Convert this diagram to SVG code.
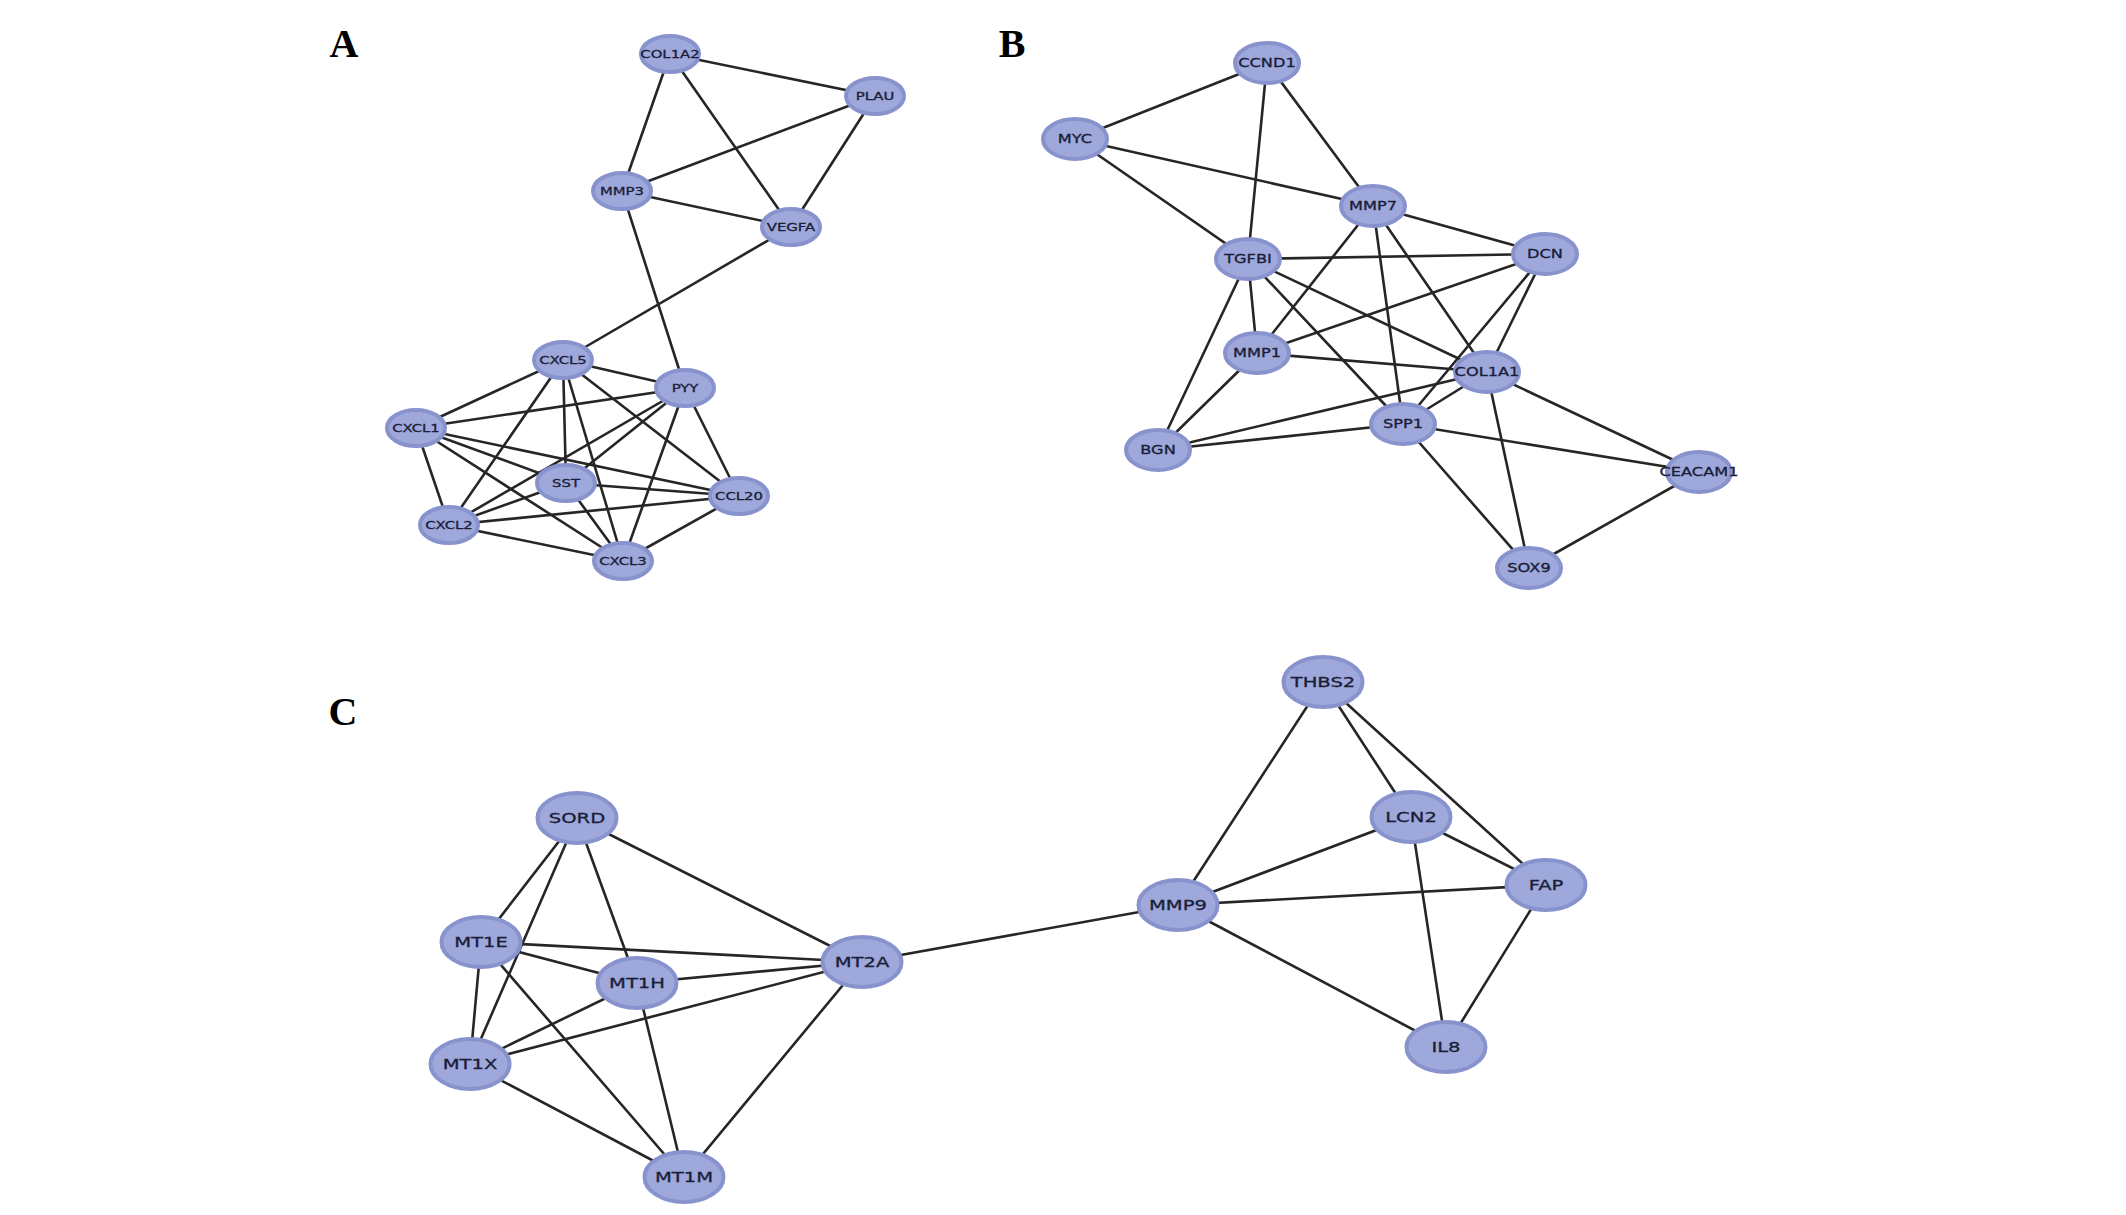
<svg xmlns="http://www.w3.org/2000/svg" width="2126" height="1215" viewBox="0 0 2126 1215">
<style>
.bg{fill:#ffffff}
.e line{stroke:#262626;stroke-width:2.6;stroke-linecap:round}
.nd{fill:#9ea8da;stroke:#8893ce;stroke-width:4}
.t{font-family:"DejaVu Sans",sans-serif;fill:#1a1d38;stroke:#1a1d38;stroke-width:0.3;text-anchor:middle;dominant-baseline:central;transform:scaleX(1.35)}
.tA{font-size:11px}
.tB{font-size:12px}
.tC{font-size:14.5px}
.lab{font-family:"Liberation Serif",serif;font-weight:bold;font-size:40px;fill:#000;text-anchor:middle}
</style>
<rect class="bg" x="0" y="0" width="2126" height="1215"/>
<text class="lab" x="344" y="57">A</text>
<text class="lab" x="1012" y="57">B</text>
<text class="lab" x="343" y="725">C</text>
<g id="connectors" class="e">
<!-- A -->
<line x1="670" y1="54" x2="875" y2="96"/>
<line x1="670" y1="54" x2="622" y2="191"/>
<line x1="670" y1="54" x2="791" y2="227"/>
<line x1="875" y1="96" x2="622" y2="191"/>
<line x1="875" y1="96" x2="791" y2="227"/>
<line x1="622" y1="191" x2="791" y2="227"/>
<line x1="622" y1="191" x2="685" y2="388"/>
<line x1="791" y1="227" x2="563" y2="360"/>
<line x1="563" y1="360" x2="685" y2="388"/>
<line x1="563" y1="360" x2="416" y2="428"/>
<line x1="563" y1="360" x2="449" y2="525"/>
<line x1="563" y1="360" x2="566" y2="483"/>
<line x1="563" y1="360" x2="623" y2="561"/>
<line x1="563" y1="360" x2="739" y2="496"/>
<line x1="685" y1="388" x2="416" y2="428"/>
<line x1="685" y1="388" x2="566" y2="483"/>
<line x1="685" y1="388" x2="449" y2="525"/>
<line x1="685" y1="388" x2="623" y2="561"/>
<line x1="685" y1="388" x2="739" y2="496"/>
<line x1="416" y1="428" x2="449" y2="525"/>
<line x1="416" y1="428" x2="566" y2="483"/>
<line x1="416" y1="428" x2="739" y2="496"/>
<line x1="416" y1="428" x2="623" y2="561"/>
<line x1="566" y1="483" x2="739" y2="496"/>
<line x1="566" y1="483" x2="449" y2="525"/>
<line x1="566" y1="483" x2="623" y2="561"/>
<line x1="449" y1="525" x2="739" y2="496"/>
<line x1="449" y1="525" x2="623" y2="561"/>
<line x1="739" y1="496" x2="623" y2="561"/>
<!-- B -->
<line x1="1267" y1="63" x2="1075" y2="139"/>
<line x1="1267" y1="63" x2="1248" y2="259"/>
<line x1="1267" y1="63" x2="1373" y2="206"/>
<line x1="1075" y1="139" x2="1373" y2="206"/>
<line x1="1075" y1="139" x2="1248" y2="259"/>
<line x1="1373" y1="206" x2="1545" y2="254"/>
<line x1="1373" y1="206" x2="1257" y2="353"/>
<line x1="1373" y1="206" x2="1403" y2="424"/>
<line x1="1373" y1="206" x2="1487" y2="372"/>
<line x1="1248" y1="259" x2="1545" y2="254"/>
<line x1="1248" y1="259" x2="1257" y2="353"/>
<line x1="1248" y1="259" x2="1158" y2="450"/>
<line x1="1248" y1="259" x2="1403" y2="424"/>
<line x1="1248" y1="259" x2="1487" y2="372"/>
<line x1="1545" y1="254" x2="1257" y2="353"/>
<line x1="1545" y1="254" x2="1403" y2="424"/>
<line x1="1545" y1="254" x2="1487" y2="372"/>
<line x1="1257" y1="353" x2="1487" y2="372"/>
<line x1="1257" y1="353" x2="1158" y2="450"/>
<line x1="1487" y1="372" x2="1158" y2="450"/>
<line x1="1487" y1="372" x2="1403" y2="424"/>
<line x1="1487" y1="372" x2="1699" y2="472"/>
<line x1="1487" y1="372" x2="1529" y2="568"/>
<line x1="1403" y1="424" x2="1158" y2="450"/>
<line x1="1403" y1="424" x2="1699" y2="472"/>
<line x1="1403" y1="424" x2="1529" y2="568"/>
<line x1="1699" y1="472" x2="1529" y2="568"/>
<!-- C -->
<line x1="577" y1="818" x2="481" y2="942"/>
<line x1="577" y1="818" x2="470" y2="1064"/>
<line x1="577" y1="818" x2="637" y2="983"/>
<line x1="577" y1="818" x2="862" y2="962"/>
<line x1="481" y1="942" x2="862" y2="962"/>
<line x1="481" y1="942" x2="637" y2="983"/>
<line x1="481" y1="942" x2="470" y2="1064"/>
<line x1="481" y1="942" x2="684" y2="1177"/>
<line x1="637" y1="983" x2="862" y2="962"/>
<line x1="637" y1="983" x2="470" y2="1064"/>
<line x1="637" y1="983" x2="684" y2="1177"/>
<line x1="862" y1="962" x2="470" y2="1064"/>
<line x1="862" y1="962" x2="684" y2="1177"/>
<line x1="470" y1="1064" x2="684" y2="1177"/>
<line x1="862" y1="962" x2="1178" y2="905"/>
<line x1="1323" y1="682" x2="1178" y2="905"/>
<line x1="1323" y1="682" x2="1411" y2="817"/>
<line x1="1323" y1="682" x2="1546" y2="885"/>
<line x1="1411" y1="817" x2="1178" y2="905"/>
<line x1="1411" y1="817" x2="1546" y2="885"/>
<line x1="1411" y1="817" x2="1446" y2="1047"/>
<line x1="1178" y1="905" x2="1546" y2="885"/>
<line x1="1178" y1="905" x2="1446" y2="1047"/>
<line x1="1546" y1="885" x2="1446" y2="1047"/>
</g>
<!-- Panel A nodes -->
<g id="n-COL1A2" transform="translate(670,54)"><ellipse class="nd" rx="29" ry="18"/><text class="t tA">COL1A2</text></g>
<g id="n-PLAU" transform="translate(875,96)"><ellipse class="nd" rx="29" ry="18"/><text class="t tA">PLAU</text></g>
<g id="n-MMP3" transform="translate(622,191)"><ellipse class="nd" rx="29" ry="18"/><text class="t tA">MMP3</text></g>
<g id="n-VEGFA" transform="translate(791,227)"><ellipse class="nd" rx="29" ry="18"/><text class="t tA">VEGFA</text></g>
<g id="n-CXCL5" transform="translate(563,360)"><ellipse class="nd" rx="29" ry="18"/><text class="t tA">CXCL5</text></g>
<g id="n-PYY" transform="translate(685,388)"><ellipse class="nd" rx="29" ry="18"/><text class="t tA">PYY</text></g>
<g id="n-CXCL1" transform="translate(416,428)"><ellipse class="nd" rx="29" ry="18"/><text class="t tA">CXCL1</text></g>
<g id="n-SST" transform="translate(566,483)"><ellipse class="nd" rx="29" ry="18"/><text class="t tA">SST</text></g>
<g id="n-CCL20" transform="translate(739,496)"><ellipse class="nd" rx="29" ry="18"/><text class="t tA">CCL20</text></g>
<g id="n-CXCL2" transform="translate(449,525)"><ellipse class="nd" rx="29" ry="18"/><text class="t tA">CXCL2</text></g>
<g id="n-CXCL3" transform="translate(623,561)"><ellipse class="nd" rx="29" ry="18"/><text class="t tA">CXCL3</text></g>
<!-- Panel B nodes -->
<g id="n-CCND1" transform="translate(1267,63)"><ellipse class="nd" rx="32" ry="20"/><text class="t tB">CCND1</text></g>
<g id="n-MYC" transform="translate(1075,139)"><ellipse class="nd" rx="32" ry="20"/><text class="t tB">MYC</text></g>
<g id="n-MMP7" transform="translate(1373,206)"><ellipse class="nd" rx="32" ry="20"/><text class="t tB">MMP7</text></g>
<g id="n-TGFBI" transform="translate(1248,259)"><ellipse class="nd" rx="32" ry="20"/><text class="t tB">TGFBI</text></g>
<g id="n-DCN" transform="translate(1545,254)"><ellipse class="nd" rx="32" ry="20"/><text class="t tB">DCN</text></g>
<g id="n-MMP1" transform="translate(1257,353)"><ellipse class="nd" rx="32" ry="20"/><text class="t tB">MMP1</text></g>
<g id="n-COL1A1" transform="translate(1487,372)"><ellipse class="nd" rx="32" ry="20"/><text class="t tB">COL1A1</text></g>
<g id="n-SPP1" transform="translate(1403,424)"><ellipse class="nd" rx="32" ry="20"/><text class="t tB">SPP1</text></g>
<g id="n-BGN" transform="translate(1158,450)"><ellipse class="nd" rx="32" ry="20"/><text class="t tB">BGN</text></g>
<g id="n-CEACAM1" transform="translate(1699,472)"><ellipse class="nd" rx="32" ry="20"/><text class="t tB">CEACAM1</text></g>
<g id="n-SOX9" transform="translate(1529,568)"><ellipse class="nd" rx="32" ry="20"/><text class="t tB">SOX9</text></g>
<!-- Panel C nodes -->
<g id="n-SORD" transform="translate(577,818)"><ellipse class="nd" rx="39.5" ry="25"/><text class="t tC">SORD</text></g>
<g id="n-MT1E" transform="translate(481,942)"><ellipse class="nd" rx="39.5" ry="25"/><text class="t tC">MT1E</text></g>
<g id="n-MT1H" transform="translate(637,983)"><ellipse class="nd" rx="39.5" ry="25"/><text class="t tC">MT1H</text></g>
<g id="n-MT2A" transform="translate(862,962)"><ellipse class="nd" rx="39.5" ry="25"/><text class="t tC">MT2A</text></g>
<g id="n-MT1X" transform="translate(470,1064)"><ellipse class="nd" rx="39.5" ry="25"/><text class="t tC">MT1X</text></g>
<g id="n-MT1M" transform="translate(684,1177)"><ellipse class="nd" rx="39.5" ry="25"/><text class="t tC">MT1M</text></g>
<g id="n-THBS2" transform="translate(1323,682)"><ellipse class="nd" rx="39.5" ry="25"/><text class="t tC">THBS2</text></g>
<g id="n-LCN2" transform="translate(1411,817)"><ellipse class="nd" rx="39.5" ry="25"/><text class="t tC">LCN2</text></g>
<g id="n-FAP" transform="translate(1546,885)"><ellipse class="nd" rx="39.5" ry="25"/><text class="t tC">FAP</text></g>
<g id="n-MMP9" transform="translate(1178,905)"><ellipse class="nd" rx="39.5" ry="25"/><text class="t tC">MMP9</text></g>
<g id="n-IL8" transform="translate(1446,1047)"><ellipse class="nd" rx="39.5" ry="25"/><text class="t tC">IL8</text></g>
</svg>
